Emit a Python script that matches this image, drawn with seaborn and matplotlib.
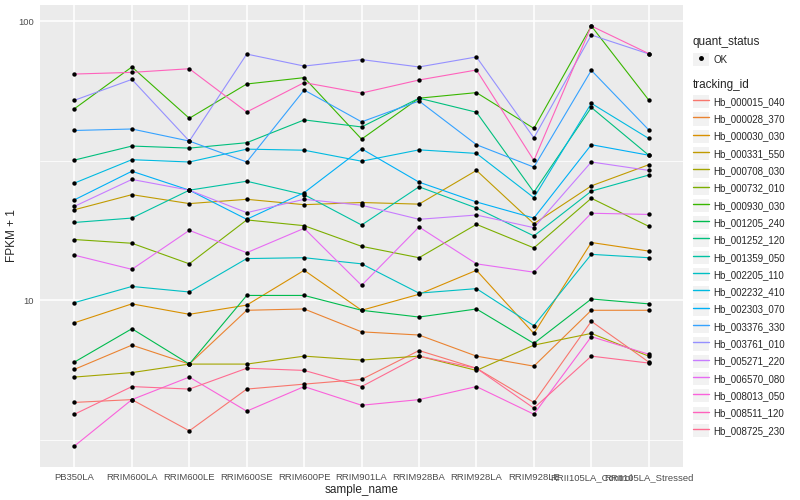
import numpy as np
import pandas as pd
import seaborn as sns
import matplotlib.pyplot as plt
from matplotlib.lines import Line2D
from matplotlib.patches import Rectangle
from matplotlib.legend_handler import HandlerTuple
from matplotlib.ticker import FixedLocator, NullFormatter, FixedFormatter

# Samples on the x axis
samples = ['PB350LA', 'RRIM600LA', 'RRIM600LE', 'RRIM600SE', 'RRIM600PE', 'RRIM901LA',
           'RRIM928BA', 'RRIM928LA', 'RRIM928LE', 'RRII105LA_Control', 'RRII105LA_Stressed']

tracking_ids = ['Hb_000015_040', 'Hb_000028_370', 'Hb_000030_030', 'Hb_000331_550',
                'Hb_000708_030', 'Hb_000732_010', 'Hb_000930_030', 'Hb_001205_240',
                'Hb_001252_120', 'Hb_001359_050', 'Hb_002205_110', 'Hb_002232_410',
                'Hb_002303_070', 'Hb_003376_330', 'Hb_003761_010', 'Hb_005271_220',
                'Hb_006570_080', 'Hb_008013_050', 'Hb_008511_120', 'Hb_008725_230']

# FPKM + 1 values
hb_000015_040 = [4.3, 4.4, 3.4, 4.8, 5.0, 5.2, 6.6, 5.7, 4.3, 8.4, 6.0]
hb_000028_370 = [5.65, 6.9, 5.9, 9.2, 9.3, 7.7, 7.5, 6.3, 5.8, 9.2, 9.2]
hb_000030_030 = [8.3, 9.7, 8.9, 9.6, 12.8, 9.2, 10.5, 12.8, 7.6, 16.1, 15.0]
hb_000331_550 = [21.1, 23.9, 22.2, 23.0, 22.0, 22.4, 22.1, 29.2, 18.8, 25.7, 30.6]
hb_000708_030 = [5.3, 5.5, 5.9, 5.9, 6.3, 6.1, 6.3, 5.6, 6.9, 7.6, 6.3]
hb_000732_010 = [16.5, 16.0, 13.5, 19.4, 18.5, 15.6, 14.2, 18.7, 15.4, 23.2, 18.4]
hb_000930_030 = [48.6, 68.6, 44.9, 59.6, 62.8, 37.8, 53.0, 55.5, 41.3, 96.2, 52.2]
hb_001205_240 = [6.0, 7.9, 5.9, 10.4, 10.4, 9.2, 8.7, 9.3, 7.0, 10.1, 9.7]
hb_001252_120 = [31.8, 35.7, 35.1, 36.7, 44.3, 41.8, 53.0, 47.2, 24.4, 49.1, 33.1]
hb_001359_050 = [19.0, 19.7, 24.8, 26.7, 23.9, 18.6, 25.5, 21.4, 17.0, 24.6, 28.1]
hb_002205_110 = [9.8, 11.2, 10.7, 14.1, 14.2, 13.5, 10.6, 11.0, 8.1, 14.6, 14.2]
hb_002232_410 = [26.3, 31.9, 31.3, 34.8, 34.5, 31.5, 34.6, 33.6, 23.3, 50.8, 38.0]
hb_002303_070 = [22.9, 29.0, 24.8, 19.5, 24.3, 34.9, 26.5, 22.5, 19.7, 36.1, 33.1]
hb_003376_330 = [40.6, 41.1, 37.2, 31.3, 56.7, 43.6, 51.8, 36.1, 30.0, 66.7, 40.8]
hb_003761_010 = [52.1, 61.9, 37.2, 76.3, 69.1, 72.9, 68.6, 74.5, 38.2, 89.3, 76.4]
hb_005271_220 = [21.7, 27.1, 24.8, 20.6, 23.0, 21.9, 19.5, 20.2, 18.2, 31.3, 29.2]
hb_006570_080 = [14.5, 12.9, 17.8, 14.8, 18.1, 11.3, 18.3, 13.5, 12.6, 20.5, 20.3]
hb_008013_050 = [3.0, 4.4, 5.3, 4.0, 4.9, 4.2, 4.4, 4.9, 3.9, 7.4, 6.4]
hb_008511_120 = [64.7, 65.6, 67.6, 47.3, 60.3, 55.3, 61.6, 66.9, 31.7, 96.2, 76.6]
hb_008725_230 = [3.9, 4.9, 4.8, 5.7, 5.6, 4.9, 6.3, 5.7, 4.1, 6.3, 5.95]

series = [hb_000015_040, hb_000028_370, hb_000030_030, hb_000331_550, hb_000708_030,
          hb_000732_010, hb_000930_030, hb_001205_240, hb_001252_120, hb_001359_050,
          hb_002205_110, hb_002232_410, hb_002303_070, hb_003376_330, hb_003761_010,
          hb_005271_220, hb_006570_080, hb_008013_050, hb_008511_120, hb_008725_230]

# ggplot default hue palette for 20 groups
colors = ['#F8766D', '#EA8331', '#D89000', '#C09B00', '#A3A500', '#7CAE00', '#39B600',
          '#00BB4E', '#00BF7D', '#00C1A3', '#00BFC4', '#00BAE0', '#00B0F6', '#35A2FF',
          '#9590FF', '#C77CFF', '#E76BF3', '#FA62DB', '#FF62BC', '#FF6C91']

# Long format table
rows = []
for tid, vals in zip(tracking_ids, series):
    for s, v in zip(samples, vals):
        rows.append({'tracking_id': tid, 'sample_name': s, 'fpkm1': v, 'quant_status': 'OK'})
df = pd.DataFrame(rows)
df['x'] = df['sample_name'].map({s: i for i, s in enumerate(samples)})

sns.set_theme(style="darkgrid")
plt.rcParams['font.family'] = ['Liberation Sans', 'DejaVu Sans']

fig = plt.figure(figsize=(8, 5), dpi=100)
ax = fig.add_axes([0.05, 0.066, 0.804, 0.924])
ax.set_facecolor('#EBEBEB')

sns.lineplot(data=df, x='x', y='fpkm1', hue='tracking_id', hue_order=tracking_ids,
             palette=colors, estimator=None, linewidth=0.8, legend=False, ax=ax)
sns.scatterplot(data=df, x='x', y='fpkm1', color='black', s=10, linewidth=0,
                legend=False, ax=ax, zorder=3)

ax.set_yscale('log')
lo = np.log10(min(min(v) for v in series))
hi = np.log10(max(max(v) for v in series))
pad = 0.05 * (hi - lo)
ax.set_ylim(10 ** (lo - pad), 10 ** (hi + pad))
ax.set_xlim(-0.6, len(samples) - 0.4)

ax.set_xticks(range(len(samples)))
ax.set_xticklabels(samples)
ax.yaxis.set_major_locator(FixedLocator([10, 100]))
ax.yaxis.set_major_formatter(FixedFormatter(['10', '100']))
ax.yaxis.set_minor_locator(FixedLocator([10 ** 0.5, 10 ** 1.5]))
ax.yaxis.set_minor_formatter(NullFormatter())

ax.grid(False)
ax.xaxis.grid(True, which='major', color='white', lw=1.1)
ax.yaxis.grid(True, which='major', color='white', lw=1.1)
ax.yaxis.grid(True, which='minor', color='white', lw=0.55)
ax.set_axisbelow(True)
for sp in ax.spines.values():
    sp.set_visible(False)

ax.tick_params(axis='both', which='major', length=3, width=0.6, color='#333333',
               labelsize=6.8, labelcolor='#4D4D4D', pad=1.5)
ax.tick_params(axis='y', which='minor', length=0)
ax.set_xlabel('sample_name', fontsize=8.5, labelpad=1)
ax.set_ylabel('FPKM + 1', fontsize=8.5, labelpad=0)

# Legends on the right, ggplot style with grey key boxes
def key(handle):
    bg = Rectangle((0, 0), 1, 1, facecolor='#F2F2F2', edgecolor='none')
    return (bg, handle)

status_handles = [key(Line2D([], [], marker='o', color='black', linestyle='none', markersize=2.5))]
leg1 = fig.legend(status_handles, ['OK'], title='quant_status', loc='upper left',
                  bbox_to_anchor=(0.866, 0.927), frameon=False, fontsize=7,
                  title_fontsize=8.5, handler_map={tuple: HandlerTuple(ndivide=1, pad=0)},
                  handlelength=1.7, handleheight=1.7, handletextpad=0.4, borderpad=0,
                  borderaxespad=0, alignment='left')

line_handles = [key(Line2D([], [], color=c, lw=1.0)) for c in colors]
leg2 = fig.legend(line_handles, tracking_ids, title='tracking_id', loc='upper left',
                  bbox_to_anchor=(0.866, 0.842), frameon=False, fontsize=7,
                  title_fontsize=8.5, handler_map={tuple: HandlerTuple(ndivide=1, pad=0)},
                  handlelength=1.7, handleheight=1.7, handletextpad=0.4, borderpad=0,
                  borderaxespad=0, labelspacing=0.43, alignment='left')

fig.savefig('out.png', dpi=100, facecolor='white')
